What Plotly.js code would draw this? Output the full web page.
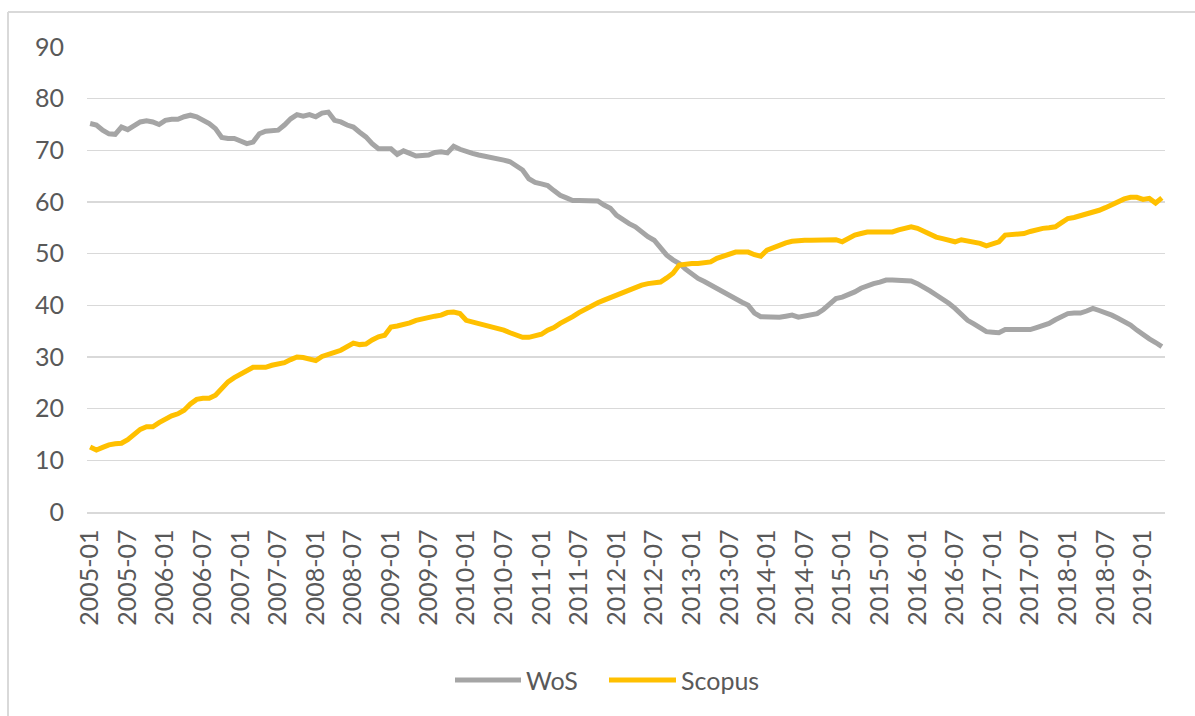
<!DOCTYPE html>
<html>
<head>
<meta charset="utf-8">
<script src="https://cdn.plot.ly/plotly-3.0.1.min.js"></script>
<style>
html,body{margin:0;padding:0;background:#fff;}
#chart{width:1195px;height:716px;}
</style>
</head>
<body>
<div id="chart"></div>
<script>
// Monthly categories 2005-01 .. 2019-04
const startYear = 2005, monthCount = 172;
const months = [];
for (let i = 0; i < monthCount; i++) {
  const y = startYear + Math.floor(i / 12);
  const m = (i % 12) + 1;
  months.push(y + '-' + (m < 10 ? '0' + m : '' + m));
}
const tickLabels = months.filter((_, i) => i % 6 === 0);

const wos = [
75.2,74.9,73.9,73.2,73.1,74.5,74.0,74.9,75.5,75.7,75.5,75.0,
75.8,76.0,76.0,76.5,76.8,76.5,75.8,75.2,74.2,72.5,72.3,72.3,
71.8,71.3,71.6,73.2,73.7,73.8,73.9,74.9,76.1,76.9,76.6,76.9,
76.5,77.2,77.4,75.8,75.5,74.9,74.5,73.5,72.6,71.3,70.3,70.3,
70.3,69.2,69.9,69.4,68.9,69.0,69.1,69.6,69.7,69.5,70.8,70.2,
69.7,69.4,69.1,68.9,68.6,68.4,68.1,67.8,67.0,66.2,64.5,63.8,
63.5,63.2,62.2,61.3,60.8,60.3,60.3,60.3,60.3,60.2,59.4,58.8,
57.4,56.5,55.8,55.2,54.2,53.3,52.6,51.2,49.7,48.8,48.1,47.0,
46.0,45.2,44.6,43.9,43.3,42.7,42.0,41.3,40.6,40.0,38.5,37.8,
37.7,37.7,37.7,37.9,38.1,37.7,37.9,38.1,38.4,39.2,40.3,41.3,
41.6,42.0,42.6,43.3,43.8,44.2,44.5,44.9,44.9,44.9,44.9,44.7,
44.2,43.6,42.8,42.0,41.3,40.4,39.4,38.3,37.1,36.4,35.6,34.9,
34.8,34.7,35.3,35.3,35.3,35.3,35.3,35.7,36.1,36.5,37.2,37.8,
38.4,38.5,38.5,38.9,39.4,39.0,38.6,38.1,37.5,36.8,36.2,35.2,
34.3,33.5,32.8,32.0
];

const scopus = [
12.6,12.0,12.5,13.0,13.2,13.3,14.0,14.9,16.0,16.5,16.5,17.3,
18.0,18.6,19.0,19.7,20.9,21.8,22.0,22.0,22.6,24.0,25.2,26.0,
26.6,27.3,28.0,28.0,28.0,28.4,28.7,28.9,29.5,30.0,29.9,29.7,
29.3,30.1,30.6,30.9,31.3,32.0,32.7,32.4,32.5,33.3,33.9,34.2,
35.8,36.0,36.2,36.6,37.1,37.4,37.8,37.9,38.1,38.6,38.7,38.4,
37.1,36.8,36.5,36.0,35.8,35.5,35.2,34.7,34.3,33.8,33.8,34.0,
34.4,35.2,35.7,36.5,37.1,37.8,38.6,39.3,40.0,40.5,41.0,41.5,
42.0,42.6,43.0,43.4,43.9,44.2,44.3,44.5,45.3,46.2,47.8,48.0,
48.1,48.1,48.3,48.4,49.1,49.5,49.9,50.3,50.3,50.3,49.8,49.5,
50.7,51.2,51.7,52.1,52.4,52.6,52.6,52.6,52.6,52.7,52.7,52.7,
52.3,53.0,53.6,53.9,54.2,54.2,54.2,54.1,54.2,54.6,55.0,55.2,
54.9,54.3,53.6,53.2,52.9,52.7,52.3,52.7,52.5,52.2,52.0,51.5,
51.8,52.3,53.6,53.7,53.8,53.9,54.3,54.7,54.9,55.0,55.2,56.0,
56.8,57.0,57.3,57.7,58.0,58.4,58.9,59.5,60.0,60.6,60.9,60.9,
60.5,60.7,59.8,60.8
];

const seriesNames = ['WoS', 'Scopus'];
const seriesColors = ['#A5A5A5', '#FFC000'];
const yTicks = [0,10,20,30,40,50,60,70,80,90];

const FONT = 'Lato, "Open Sans", sans-serif';
const TXT = '#595959';

const traces = [
  {x: months, y: wos, name: seriesNames[0], type: 'scatter', mode: 'lines',
   line: {color: seriesColors[0], width: 5}, showlegend: false},
  {x: months, y: scopus, name: seriesNames[1], type: 'scatter', mode: 'lines',
   line: {color: seriesColors[1], width: 5}, showlegend: false}
];

// plot area: x 87..1165 px, y 47..512 px
const pxX = p => (p - 87) / 1078;
const pxY = q => (512 - q) / 465;

const legendY = pxY(680);
const layout = {
  width: 1195, height: 716,
  paper_bgcolor: '#ffffff', plot_bgcolor: '#ffffff',
  margin: {l: 87, r: 30, t: 47, b: 204},
  font: {family: FONT, color: TXT, size: 26},
  xaxis: {
    type: 'category', range: [-0.5, monthCount - 0.5],
    tickmode: 'array', tickvals: tickLabels, ticktext: tickLabels,
    tickangle: -90, showgrid: false, zeroline: false,
    showline: true, linecolor: '#D9D9D9', linewidth: 1.5,
    ticks: '', ticklabelstandoff: 6,
    tickfont: {family: FONT, size: 25, color: TXT}
  },
  yaxis: {
    range: [0, 90], tickmode: 'array', tickvals: yTicks,
    showgrid: true, gridcolor: '#D9D9D9', gridwidth: 1.5,
    zeroline: false, showline: false, ticks: '',
    ticklabelstandoff: 22,
    tickfont: {family: FONT, size: 25, color: TXT}
  },
  shapes: [
    {type: 'line', xref: 'paper', yref: 'paper', x0: pxX(8), x1: pxX(8), y0: pxY(716), y1: pxY(12),
     line: {color: '#D9D9D9', width: 2}},
    {type: 'line', xref: 'paper', yref: 'paper', x0: pxX(8), x1: pxX(1195), y0: pxY(12), y1: pxY(12),
     line: {color: '#D9D9D9', width: 2}},
    {type: 'line', xref: 'paper', yref: 'paper', x0: pxX(455), x1: pxX(521), y0: legendY, y1: legendY,
     line: {color: seriesColors[0], width: 5}},
    {type: 'line', xref: 'paper', yref: 'paper', x0: pxX(609), x1: pxX(676), y0: legendY, y1: legendY,
     line: {color: seriesColors[1], width: 5}}
  ],
  annotations: [
    {xref: 'paper', yref: 'paper', x: pxX(524), y: legendY, xanchor: 'left', yanchor: 'middle',
     text: seriesNames[0], showarrow: false, font: {family: FONT, size: 25, color: TXT}},
    {xref: 'paper', yref: 'paper', x: pxX(679), y: legendY, xanchor: 'left', yanchor: 'middle',
     text: seriesNames[1], showarrow: false, font: {family: FONT, size: 25, color: TXT}}
  ]
};

Plotly.newPlot('chart', traces, layout, {displayModeBar: false, staticPlot: true});
</script>
</body>
</html>
